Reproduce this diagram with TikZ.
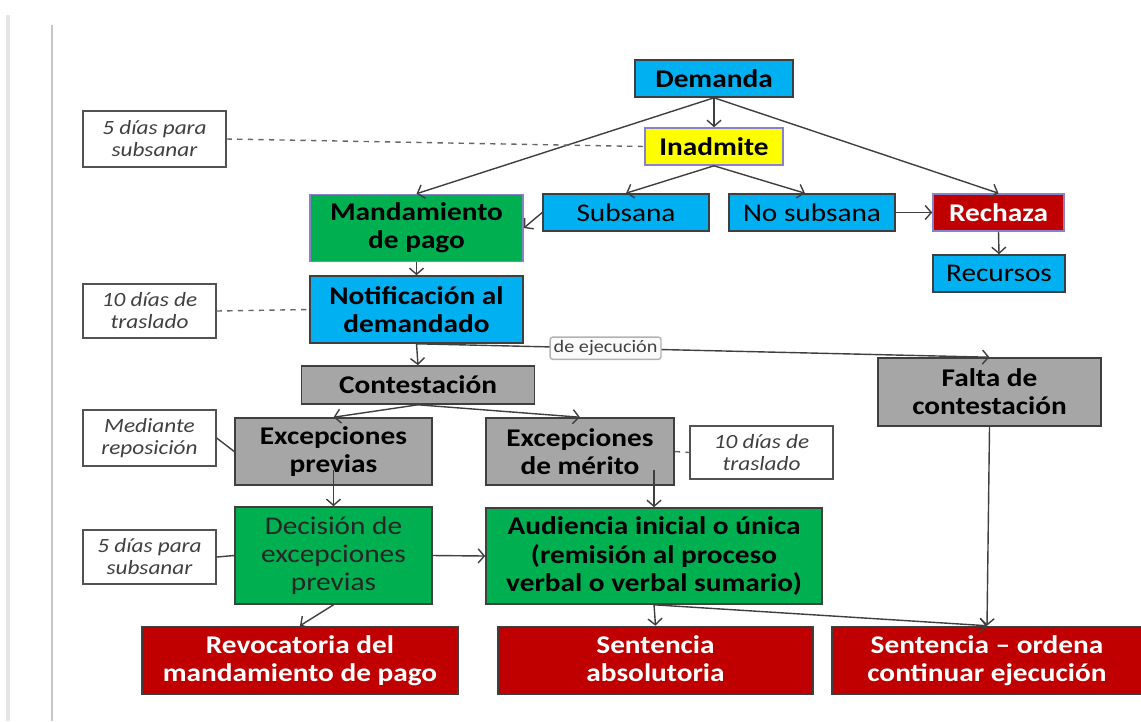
\documentclass[tikz,border=0pt]{standalone}
\usepackage{fontspec}
\setmainfont{Carlito}[FakeStretch=1.15]
\usetikzlibrary{calc,arrows.meta}

\definecolor{azul}{HTML}{00B0F0}
\definecolor{verde}{HTML}{00B050}
\definecolor{amarillo}{HTML}{FFFF00}
\definecolor{rojo}{HTML}{C00000}
\definecolor{gris}{HTML}{A6A6A6}
\definecolor{borde}{HTML}{3F3F3F}
\definecolor{lila}{HTML}{8A82C8}

\tikzset{
  tam/.style 2 args={minimum width=#1cm, minimum height=#2cm},
  caja/.style={draw=borde, line width=0.9pt, align=center, inner sep=1pt,
    font=\bfseries\fontsize{14.5}{16}\selectfont},
  normal/.style={font=\fontsize{14.5}{16}\selectfont},
  nota/.style={draw=borde!90, fill=white, line width=0.8pt, align=center, inner sep=1pt,
    text=black!75, font=\itshape\fontsize{11.5}{12.5}\selectfont},
  flecha/.style={-{Straight Barb[length=3.5pt,width=8pt]}, draw=borde, line width=0.8pt},
  guion/.style={draw=borde!80, dashed, line width=0.8pt}
}

\begin{document}
\begin{tikzpicture}[x=0.02cm,y=-0.02cm]
  \useasboundingbox (0,0) rectangle (1141,721);
  % bordes de la captura
  \draw[gray!20, line width=2pt] (8,15) -- (8,721);
  \draw[gray!45, line width=0.6pt] (52,25) -- (52,721);

  % fila superior
  \node[caja, fill=azul, tam={3.16}{0.74}] (dem) at (714,78.5) {Demanda};
  \node[caja, draw=lila, fill=amarillo, tam={2.76}{0.74}] (inad) at (714,146.5) {Inadmite};
  \node[nota, tam={2.86}{1.12}] (n5a) at (154.5,139) {5 días para\\subsanar};

  \node[caja, draw=lila, fill=verde, tam={4.26}{1.34}] (mand) at (416.5,228) {Mandamiento\\de pago};
  \node[caja, normal, fill=azul, tam={3.32}{0.74}] (subs) at (626,212.5) {Subsana};
  \node[caja, normal, fill=azul, tam={3.32}{0.74}] (nosub) at (812,212.5) {No subsana};
  \node[caja, draw=lila, fill=rojo, text=white, tam={2.62}{0.74}] (rech) at (998.5,212.5) {Rechaza};
  \node[caja, normal, fill=azul, tam={2.64}{0.74}] (recu) at (999,273.5) {Recursos};

  \node[caja, fill=azul, tam={4.26}{1.34}] (notif) at (416.5,309.5) {Notificación al\\demandado};
  \node[nota, tam={2.66}{1.08}] (n10a) at (149.5,311) {10 días de\\traslado};

  \node[caja, fill=gris, tam={4.66}{0.76}] (cont) at (418,385) {Contestación};
  \node[caja, fill=gris, tam={4.46}{1.36}] (falta) at (989.5,392) {Falta de\\contestación};

  \node[caja, fill=gris, tam={3.94}{1.34}] (exprev) at (333.5,451.5) {Excepciones\\previas};
  \node[caja, fill=gris, tam={3.76}{1.34}] (exmer) at (580,451.5) {Excepciones\\de mérito};
  \node[nota, tam={2.66}{1.12}] (med) at (149.5,438) {Mediante\\reposición};
  \node[nota, tam={2.86}{1.06}] (n10b) at (761.5,452.5) {10 días de\\traslado};

  \node[caja, normal, fill=verde, text=black!85, tam={3.94}{1.94}] (dec) at (333.5,555.5) {Decisión de\\excepciones\\previas};
  \node[caja, fill=verde, tam={6.72}{1.92}] (aud) at (654,556) {Audiencia inicial o única\\(remisión al proceso\\verbal o verbal sumario)};
  \node[nota, tam={2.66}{1.08}] (n5b) at (149.5,557) {5 días para\\subsanar};

  \node[caja, fill=rojo, text=white, tam={6.32}{1.36}] (revo) at (300,660.5) {Revocatoria del\\mandamiento de pago};
  \node[caja, fill=rojo, text=white, tam={6.30}{1.36}] (sabs) at (655.5,660.5) {Sentencia\\absolutoria\vphantom{g}};
  \node[caja, fill=rojo, text=white, tam={6.20}{1.36}] (sord) at (987,660.5) {Sentencia -- ordena\\continuar ejecución};

  % conectores
  \draw[flecha] (dem.south) -- (inad.north);
  \draw[flecha] (dem.south) -- (mand.north);
  \draw[flecha] (dem.south) -- (rech.north);
  \draw[guion] (n5a.east) -- (inad.west);
  \draw[flecha] (inad.south) -- (subs.north);
  \draw[flecha] (inad.south) -- ([xshift=-0.14cm]nosub.north);
  \draw[flecha] (subs.west) -- (mand.east);
  \draw[flecha] (nosub.east) -- (rech.west);
  \draw[flecha] (rech.south) -- (recu.north);
  \draw[flecha] (mand.south) -- (notif.north);
  \draw[guion] (n10a.east) -- (notif.west);
  \draw[flecha] (notif.south) -- (cont.north);
  \draw[flecha] (notif.south) -- (falta.north)
    node[pos=0.33, draw=gray!60, rounded corners=1.5pt, fill=gray!4, inner sep=2pt,
         text=black!75, font=\fontsize{10}{11}\selectfont] (ejec) {de ejecución};
  \draw[flecha] (cont.south) -- (exprev.north);
  \draw[flecha] (cont.south) -- (exmer.north);
  \draw[draw=borde, line width=0.8pt] (med.east) -- (exprev.west);
  \draw[guion] (exmer.east) -- (n10b.west);
  \draw[flecha] ($(exprev.center)+(0,18.5)$) -- (dec.north);
  \draw[flecha] ($(exmer.center -| aud.north)+(0,18.5)$) -- (aud.north);
  \draw[draw=borde, line width=0.8pt] (n5b.east) -- (dec.west);
  \draw[flecha] (dec.east) -- (aud.west);
  \draw[flecha] (dec.south) -- (revo.north);
  \draw[flecha] (aud.south) -- (sabs.north);
  \draw[flecha] (aud.south) -- (sord.north);
  \draw[flecha] (falta.south) -- (sord.north);
\end{tikzpicture}
\end{document}
